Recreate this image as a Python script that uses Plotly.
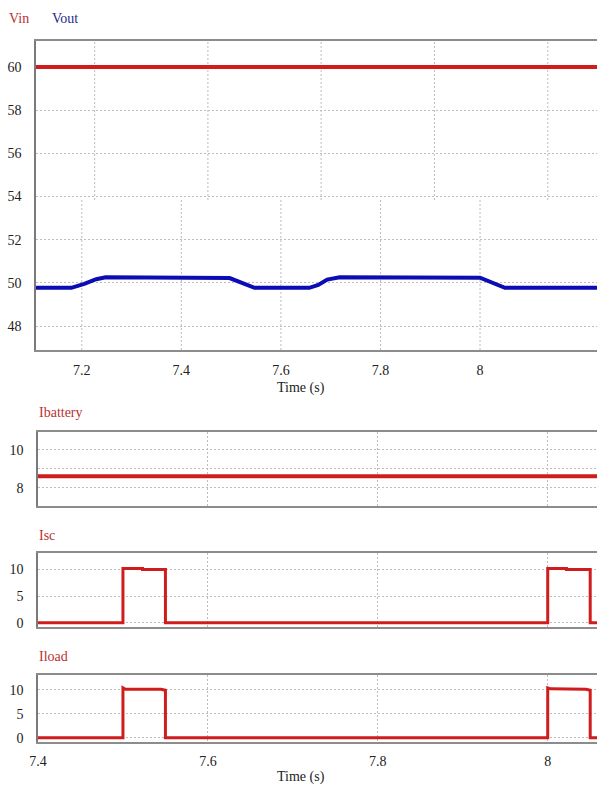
import plotly.graph_objects as go

# ---------------- data ----------------
top_t = [7.108, 8.235]
vin_v = [60.0, 60.0]

vout_t = [7.108, 7.179, 7.205, 7.229, 7.248, 7.406, 7.407, 7.497, 7.547, 7.657, 7.675, 7.693, 7.718, 7.922, 7.923, 8.0, 8.05, 8.235]
vout_v = [49.77, 49.77, 49.95, 50.17, 50.26, 50.26, 50.22, 50.22, 49.77, 49.77, 49.9, 50.15, 50.26, 50.26, 50.24, 50.24, 49.77, 49.77]

bat_t = [7.4, 8.058]
bat_v = [8.6, 8.6]

isc_t = [7.4, 7.5, 7.5, 7.523, 7.523, 7.55, 7.55, 8.0, 8.0, 8.022, 8.022, 8.05, 8.05, 8.058]
isc_v = [0, 0, 10.2, 10.2, 10.0, 10.0, 0, 0, 10.2, 10.2, 10.0, 10.0, 0, 0]

iload_t = [7.4, 7.5, 7.5, 7.503, 7.545, 7.55, 7.55, 8.0, 8.0, 8.003, 8.045, 8.05, 8.05, 8.058]
iload_v = [0, 0, 10.4, 10.1, 10.1, 9.9, 0, 0, 10.4, 10.2, 10.1, 9.9, 0, 0]

top_xticks = [7.2, 7.4, 7.6, 7.8, 8.0]
top_xlabels = ["7.2", "7.4", "7.6", "7.8", "8"]
top_yticks = [48, 50, 52, 54, 56, 58, 60]
low_xticks = [7.4, 7.6, 7.8, 8.0]
low_xlabels = ["7.4", "7.6", "7.8", "8"]
bat_yticks = [8, 9, 10]
bat_ylabels = ["8", "", "10"]
cur_yticks = [0, 5, 10]
# upper part of the top panel shows a different vertical grid (in lower-panel time scale)
upper_grid_t = [7.4667, 7.6, 7.7333, 7.8667, 8.0]

# ---------------- style ----------------
W, H = 597, 787
FONT = "Liberation Serif"
RED = "#d01c1c"
BLUE = "#0c0cb4"
TITLE_RED = "#b83232"
AXC = "#8c8c8c"
GRIDC = "#bcbcbc"
GDASH = "2px,2px"
SPLIT = 200  # pixel row where the top panel's vertical grid changes

def py(p):
    return 1 - p / H

fig = go.Figure()
fig.add_trace(go.Scatter(x=top_t, y=vin_v, mode="lines", line=dict(color=RED, width=4), xaxis="x", yaxis="y", showlegend=False))
fig.add_trace(go.Scatter(x=vout_t, y=vout_v, mode="lines", line=dict(color=BLUE, width=4), xaxis="x", yaxis="y", showlegend=False))
fig.add_trace(go.Scatter(x=bat_t, y=bat_v, mode="lines", line=dict(color=RED, width=4), xaxis="x2", yaxis="y2", showlegend=False))
fig.add_trace(go.Scatter(x=isc_t, y=isc_v, mode="lines", line=dict(color=RED, width=3), xaxis="x3", yaxis="y3", showlegend=False))
fig.add_trace(go.Scatter(x=iload_t, y=iload_v, mode="lines", line=dict(color=RED, width=3), xaxis="x4", yaxis="y4", showlegend=False))

tickfont = dict(family=FONT, size=14, color="#222")

def xax(domain, rng, tickvals, ticktext, anchor, show_labels, grid=True):
    return dict(domain=domain, range=rng, anchor=anchor, tickvals=tickvals, ticktext=ticktext,
                showticklabels=show_labels, showgrid=grid, gridcolor=GRIDC, griddash=GDASH, gridwidth=1,
                showline=True, linecolor=AXC, linewidth=1.5, mirror=True, zeroline=False,
                ticks="", tickfont=tickfont, ticklabelstandoff=6, automargin=False)

def yax(domain, rng, tickvals, ticktext, anchor):
    return dict(domain=domain, range=rng, anchor=anchor, tickvals=tickvals, ticktext=ticktext,
                showgrid=True, gridcolor=GRIDC, griddash=GDASH, gridwidth=1,
                showline=True, linecolor="#7a7a7a", linewidth=1.5, mirror=False, zeroline=False,
                ticks="", tickfont=tickfont, ticklabelstandoff=10, automargin=False)

fig.update_layout(
    width=W, height=H, margin=dict(l=0, r=0, t=0, b=0, pad=0), autosize=False,
    paper_bgcolor="white", plot_bgcolor="white",
    font=dict(family=FONT),
    xaxis=xax([36 / W, 1], [7.108, 8.235], top_xticks, top_xlabels, "y", True, grid=False),
    yaxis=yax([py(350), py(41)], [46.89, 61.2], top_yticks, [str(v) for v in top_yticks], "x"),
    xaxis2=xax([38 / W, 1], [7.4, 8.058], low_xticks, low_xlabels, "y2", False),
    yaxis2=yax([py(506), py(432)], [7.03, 10.95], bat_yticks, bat_ylabels, "x2"),
    xaxis3=xax([38 / W, 1], [7.4, 8.058], low_xticks, low_xlabels, "y3", False),
    yaxis3=yax([py(627), py(553)], [-0.8, 13.1], cur_yticks, [str(v) for v in cur_yticks], "x3"),
    xaxis4=xax([38 / W, 1], [7.4, 8.058], low_xticks, low_xlabels, "y4", True),
    yaxis4=yax([py(741.5), py(675)], [-0.8, 13.1], cur_yticks, [str(v) for v in cur_yticks], "x4"),
)

# top panel vertical grid, drawn in two pieces
for t in upper_grid_t:
    fig.add_shape(type="line", xref="x2", yref="paper", x0=t, x1=t, y0=py(SPLIT), y1=py(41),
                  line=dict(color=GRIDC, width=1, dash=GDASH), layer="below")
for t in top_xticks:
    fig.add_shape(type="line", xref="x", yref="paper", x0=t, x1=t, y0=py(350), y1=py(SPLIT),
                  line=dict(color=GRIDC, width=1, dash=GDASH), layer="below")

def ann(text, x, y, color, size=14, xanchor="left"):
    fig.add_annotation(text=text, x=x / W, y=py(y), xref="paper", yref="paper", showarrow=False,
                       xanchor=xanchor, yanchor="middle", font=dict(family=FONT, size=size, color=color))

ann("Vin", 7, 18, TITLE_RED)
ann("Vout", 50, 18, "#2a2a8c")
ann("Time (s)", 301, 388, "#222", xanchor="center")
ann("Ibattery", 37, 412, TITLE_RED)
ann("Isc", 37, 535, TITLE_RED)
ann("Iload", 37, 656, TITLE_RED)
ann("Time (s)", 301, 777, "#222", xanchor="center")

fig.write_html("out.html", config={"displayModeBar": False},
               post_script="document.body.style.margin='0';document.body.style.overflow='hidden';")
